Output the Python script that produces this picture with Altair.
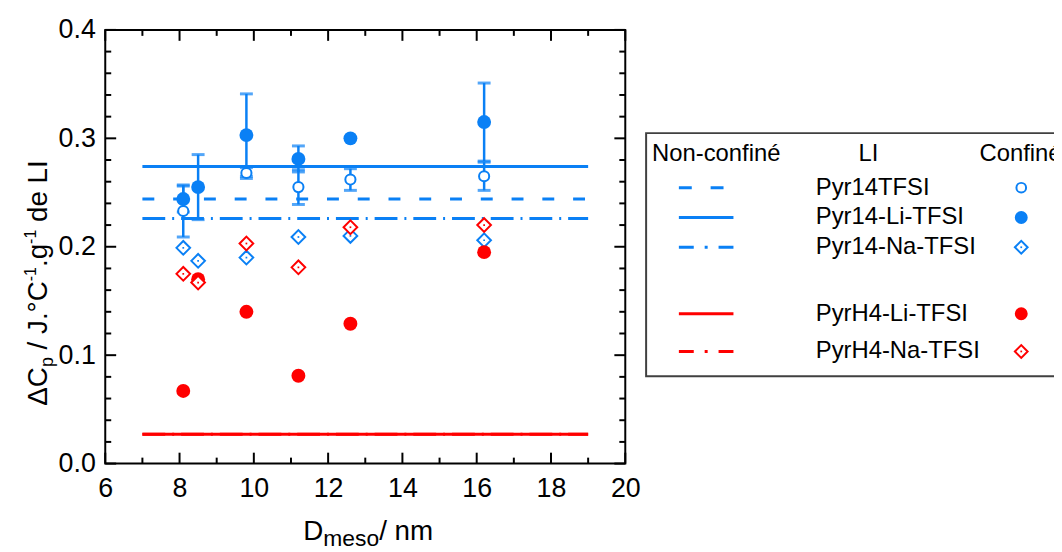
import altair as alt
import pandas as pd

# ---------------- data ----------------
D_meso = [8.1, 8.5, 9.8, 11.2, 12.6, 16.2]
pyr14_li_conf = [0.244, 0.255, 0.303, 0.281, 0.300, 0.315]
pyr14_li_err = [0.012, 0.030, 0.038, 0.012, 0.0, 0.036]
pyr14_D = [8.1, 9.8, 11.2, 12.6, 16.2]
pyr14_conf = [0.233, 0.268, 0.255, 0.262, 0.265]
pyr14_err = [0.024, 0.005, 0.016, 0.010, 0.013]
pyr14_na_conf = [0.199, 0.187, 0.190, 0.209, 0.210, 0.206]
pyrh4_li_conf = [0.067, 0.170, 0.140, 0.081, 0.129, 0.195]
pyrh4_na_conf = [0.175, 0.167, 0.203, 0.181, 0.218, 0.220]

LI_names = ["Pyr14TFSI", "Pyr14-Li-TFSI", "Pyr14-Na-TFSI", "PyrH4-Li-TFSI", "PyrH4-Na-TFSI"]
bulk_values = [0.244, 0.274, 0.226, 0.027, 0.027]
bulk_D_range = [7, 19]

x_ticks_major = [6, 8, 10, 12, 14, 16, 18, 20]
x_ticks_minor = [7, 9, 11, 13, 15, 17, 19]
y_ticks_major = [0.0, 0.1, 0.2, 0.3, 0.4]
y_ticks_minor = [0.02, 0.04, 0.06, 0.08, 0.12, 0.14, 0.16, 0.18,
                 0.22, 0.24, 0.26, 0.28, 0.32, 0.34, 0.36, 0.38]

# ---------------- styles ----------------
BLUE = "#0a80f5"
RED = "#ff0000"
FONT = "Liberation Sans"
W, H = 524, 437
TICK_FS = 27
TITLE_FS = 28
LEG_FS = 24

xs = alt.Scale(domain=[6, 20], nice=False, zero=False)
ys = alt.Scale(domain=[0, 0.4], nice=False, zero=False)
xax = alt.Axis(values=x_ticks_major, title=None, ticks=False, domain=False, grid=False,
               labelFontSize=TICK_FS, labelPadding=12, labelFont=FONT,
               labelColor="black", labelFlush=False)
yax = alt.Axis(values=y_ticks_major, format=".1f", title=None, ticks=False, domain=False,
               grid=False, labelFontSize=TICK_FS, labelPadding=10, labelFont=FONT,
               labelColor="black", labelFlush=False)


def X(f):
    return alt.X(f, type="quantitative", scale=xs, axis=xax)


def Y(f):
    return alt.Y(f, type="quantitative", scale=ys, axis=yax)


layers = []

# ---------------- tick marks (inward, all four sides) ----------------
xmaj = pd.DataFrame({"v": x_ticks_major})
xmin = pd.DataFrame({"v": x_ticks_minor})
ymaj = pd.DataFrame({"v": y_ticks_major})
ymin = pd.DataFrame({"v": y_ticks_minor})
MAJ, MIN = 11, 6
for df, L in [(xmaj, MAJ), (xmin, MIN)]:
    layers.append(alt.Chart(df).mark_rule(color="black", strokeWidth=2).encode(
        x=X("v"), y=alt.value(H), y2=alt.value(H - L)))
    layers.append(alt.Chart(df).mark_rule(color="black", strokeWidth=2).encode(
        x=X("v"), y=alt.value(0), y2=alt.value(L)))
for df, L in [(ymaj, MAJ), (ymin, MIN)]:
    layers.append(alt.Chart(df).mark_rule(color="black", strokeWidth=2).encode(
        y=Y("v"), x=alt.value(0), x2=alt.value(L)))
    layers.append(alt.Chart(df).mark_rule(color="black", strokeWidth=2).encode(
        y=Y("v"), x=alt.value(W), x2=alt.value(W - L)))

# ---------------- non-confined (bulk) horizontal lines ----------------
bulk_df = pd.DataFrame({"LI": LI_names, "v": bulk_values,
                        "x0": bulk_D_range[0], "x1": bulk_D_range[1]})
bulk_style = {
    "Pyr14TFSI": (BLUE, [12, 19]),
    "Pyr14-Li-TFSI": (BLUE, None),
    "Pyr14-Na-TFSI": (BLUE, [23, 7, 2, 7]),
    "PyrH4-Na-TFSI": (RED, [23, 7, 2, 7]),
    "PyrH4-Li-TFSI": (RED, None),
}
for name, (col, dash) in bulk_style.items():
    kw = dict(color=col, strokeWidth=3)
    if dash:
        kw["strokeDash"] = dash
    layers.append(alt.Chart(bulk_df).transform_filter(alt.datum.LI == name)
                  .mark_rule(**kw).encode(x=X("x0"), x2="x1", y=Y("v")))

# ---------------- confined data ----------------
conf6 = pd.DataFrame({"D": D_meso, "li": pyr14_li_conf, "err": pyr14_li_err,
                      "na": pyr14_na_conf, "h4li": pyrh4_li_conf, "h4na": pyrh4_na_conf})
conf5 = pd.DataFrame({"D": pyr14_D, "y": pyr14_conf, "err": pyr14_err})

for df, yf in [(conf6, "li"), (conf5, "y")]:
    base = (alt.Chart(df).transform_filter("datum.err > 0")
            .transform_calculate(lo=f"datum.{yf} - datum.err", hi=f"datum.{yf} + datum.err"))
    layers.append(base.mark_rule(color=BLUE, strokeWidth=2.5).encode(x=X("D"), y=Y("lo"), y2="hi"))
    for e in ["lo", "hi"]:
        layers.append(base.mark_tick(orient="horizontal", size=13, thickness=3, color=BLUE)
                      .encode(x=X("D"), y=Y(e)))


def diamonds(yf, col):
    return [alt.Chart(conf6).mark_point(shape="diamond", filled=True, fill="white", stroke=col,
                                        strokeWidth=2, size=190, opacity=1)
            .encode(x=X("D"), y=Y(yf)),
            alt.Chart(conf6).mark_point(shape="square", filled=True, color=col, size=3, opacity=1)
            .encode(x=X("D"), y=Y(yf))]


# markers
layers += diamonds("na", BLUE)
layers.append(alt.Chart(conf6).mark_circle(color=RED, size=196, opacity=1)
              .encode(x=X("D"), y=Y("h4li")))
layers += diamonds("h4na", RED)
layers.append(alt.Chart(conf5).mark_point(shape="circle", filled=True, fill="white", stroke=BLUE,
                                          strokeWidth=2, size=105, opacity=1)
              .encode(x=X("D"), y=Y("y")))
layers.append(alt.Chart(conf6).mark_circle(color=BLUE, size=196, opacity=1)
              .encode(x=X("D"), y=Y("li")))

# ---------------- legend (drawn by hand, outside plot on the right) ----------------
dummy = pd.DataFrame({"a": [0]})


def txt(s, x, y, fs, align="left", baseline="middle", angle=0):
    kw = dict(text=s, font=FONT, fontSize=fs, align=align, baseline=baseline, color="black")
    if angle:
        kw["angle"] = angle
    return alt.Chart(dummy).mark_text(**kw).encode(x=alt.value(x), y=alt.value(y))


DX = 4  # legend horizontal offset
layers.append(alt.Chart(dummy).mark_rect(fill="white", stroke="#404040", strokeWidth=2).encode(
    x=alt.value(541 + DX), x2=alt.value(975), y=alt.value(104), y2=alt.value(349)))
HEAD_Y = 125
layers.append(txt("Non-confiné", 547 + DX, HEAD_Y, LEG_FS))
layers.append(txt("LI", 765 + DX, HEAD_Y, LEG_FS, align="center"))
layers.append(txt("Confiné", 877 + DX, HEAD_Y, LEG_FS))

row_y = [159, 189, 219, 286, 324]
leg_dash = {"Pyr14TFSI": [13, 19], "Pyr14-Li-TFSI": None, "Pyr14-Na-TFSI": [15, 11, 3, 11],
            "PyrH4-Li-TFSI": None, "PyrH4-Na-TFSI": [15, 11, 3, 11]}
leg_col = {"Pyr14TFSI": BLUE, "Pyr14-Li-TFSI": BLUE, "Pyr14-Na-TFSI": BLUE,
           "PyrH4-Li-TFSI": RED, "PyrH4-Na-TFSI": RED}
leg_marker = {"Pyr14TFSI": "open", "Pyr14-Li-TFSI": "filled", "Pyr14-Na-TFSI": "diamond",
              "PyrH4-Li-TFSI": "filled", "PyrH4-Na-TFSI": "diamond"}
for name, ry in zip(LI_names, row_y):
    col = leg_col[name]
    kw = dict(color=col, strokeWidth=3)
    if leg_dash[name]:
        kw["strokeDash"] = leg_dash[name]
    layers.append(alt.Chart(dummy).mark_rule(**kw).encode(
        x=alt.value(574 + DX), x2=alt.value(629 + DX), y=alt.value(ry)))
    layers.append(txt(name, 712 + DX, ry, LEG_FS))
    m = leg_marker[name]
    mx = 919 + DX
    if m == "open":
        mk = alt.Chart(dummy).mark_point(shape="circle", filled=True, fill="white", stroke=col,
                                         strokeWidth=2, size=95, opacity=1)
    elif m == "filled":
        mk = alt.Chart(dummy).mark_circle(color=col, size=170, opacity=1)
    else:
        mk = alt.Chart(dummy).mark_point(shape="diamond", filled=True, fill="white", stroke=col,
                                         strokeWidth=2, size=165, opacity=1)
    layers.append(mk.encode(x=alt.value(mx), y=alt.value(ry)))
    if m == "diamond":
        layers.append(alt.Chart(dummy).mark_point(shape="square", filled=True, color=col, size=3,
                                                  opacity=1)
                      .encode(x=alt.value(mx), y=alt.value(ry)))

# ---------------- axis titles with sub/superscripts ----------------
AW = {"Δ": 0.668, "C": 0.722, "p": 0.556, " ": 0.278, "/": 0.278, "J": 0.5,
      ".": 0.278, "°": 0.4, "-": 0.333, "1": 0.556, "g": 0.556, "d": 0.556, "e": 0.556,
      "L": 0.556, "I": 0.278, "D": 0.722, "m": 0.833, "s": 0.5, "o": 0.556, "n": 0.556}


def width(s, fs):
    return sum(AW.get(c, 0.556) for c in s) * fs


SP = 0.278 * TITLE_FS  # width of a space

# x title: D_meso/ nm   (text, size, baseline shift, gap before)
x_parts = [("D", TITLE_FS, 0, 0), ("meso", 23, 6, 0), ("/ nm", TITLE_FS, 0, 0)]
tot = sum(width(s, f) + g for s, f, _, g in x_parts)
cx = 265 - tot / 2
for s, f, dy, g in x_parts:
    cx += g
    layers.append(txt(s, cx, 514 + dy, f, baseline="alphabetic"))
    cx += width(s, f)

# y title: ΔC_p / J.°C^-1.g^-1 de LI (rotated); leading spaces given as explicit gaps
y_parts = [("ΔC", TITLE_FS, 0, 0), ("p", 18, 6, 0), ("/ J.°C", TITLE_FS, 0, SP),
           ("-1", 16, -11, 0), (".g", TITLE_FS, 0, 0), ("-1", 16, -11, 0),
           ("de LI", TITLE_FS, 0, SP)]
tot = sum(width(s, f) + g for s, f, _, g in y_parts)
cy = 255 + tot / 2
for s, f, dx, g in y_parts:
    cy -= g
    layers.append(txt(s, -59 + dx, cy, f, baseline="alphabetic", angle=270))
    cy -= width(s, f)

chart = alt.layer(*layers).properties(
    width=W, height=H,
    autosize=alt.AutoSizeParams(type="none"),
    padding={"left": 98, "top": 20, "right": 432, "bottom": 87},
    background="white",
).configure_view(stroke="black", strokeWidth=2)

chart.save("out.html", embed_options={"renderer": "svg", "actions": False})
